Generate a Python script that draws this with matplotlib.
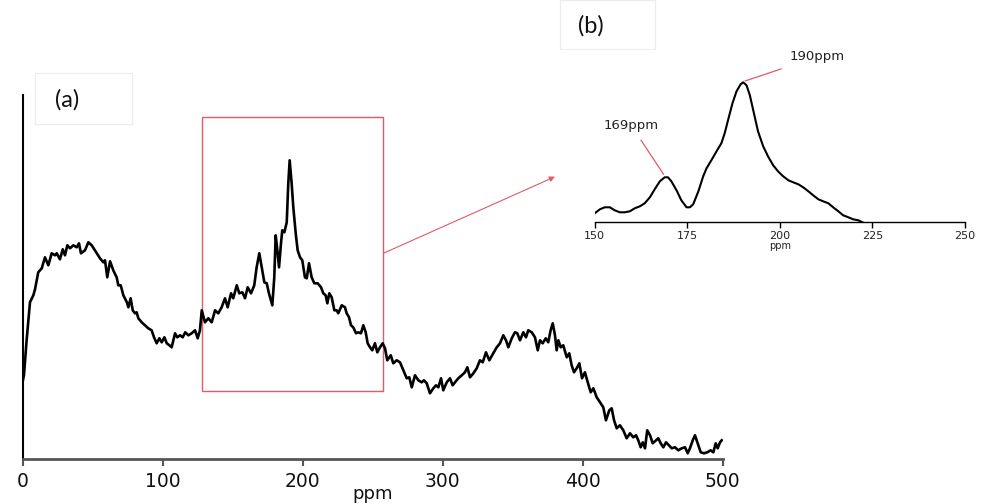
import matplotlib
matplotlib.use("Agg")
import matplotlib.pyplot as plt
from matplotlib.patches import Rectangle

# ---------------- data ----------------
main_ppm = [0.0, 0.9, 2.8, 5.2, 7.6, 8.8, 11.1, 13.6, 15.9, 18.3, 20.7, 23.1, 24.3, 26.6, 28.6, 30.2,
            31.9, 33.8, 36.2, 38.6, 40.2, 41.6, 44.5, 46.9, 49.3, 51.6, 55.2, 57.6, 58.8, 60.4, 62.4,
            64.7, 67.1, 68.3, 70.0, 71.9, 74.4, 75.5, 77.1, 78.6, 80.2, 81.4, 82.6, 85.0, 87.4, 89.7,
            92.1, 93.8, 95.7, 97.6, 99.3, 101.2, 102.9, 104.8, 106.4, 108.8, 110.4, 112.4, 114.3,
            116.1, 118.3, 120.7, 123.1, 125.0, 126.6, 127.9, 130.2, 132.6, 135.0, 137.4, 139.7,
            142.1, 144.5, 146.4, 148.8, 150.4, 152.9, 154.7, 156.9, 158.8, 160.7, 163.1, 165.4,
            167.1, 169.0, 170.7, 172.6, 174.3, 175.9, 178.3, 179.7, 180.7, 181.9, 183.1, 184.5,
            185.4, 186.9, 188.6, 189.7, 190.7, 192.1, 193.3, 195.0, 196.4, 198.1, 199.7, 201.6,
            202.9, 204.5, 206.4, 208.3, 210.7, 213.1, 214.7, 216.4, 217.6, 219.0, 220.7, 222.6,
            224.3, 225.4, 227.9, 230.2, 231.4, 233.1, 234.5, 236.1, 238.1, 239.7, 241.6, 243.3,
            245.0, 246.4, 248.1, 249.7, 251.6, 253.3, 255.2, 257.1, 258.8, 260.4, 262.9, 264.7,
            267.1, 269.5, 271.9, 274.3, 276.1, 277.9, 280.2, 282.6, 285.0, 286.6, 288.6, 290.9,
            293.3, 295.2, 296.9, 298.8, 300.4, 302.9, 305.2, 307.1, 308.8, 311.1, 313.6, 315.9,
            317.6, 319.5, 321.9, 324.3, 326.6, 328.6, 330.9, 333.3, 336.1, 338.6, 340.9, 343.3,
            345.2, 346.9, 349.3, 351.6, 353.3, 355.2, 357.6, 359.5, 361.1, 363.6, 365.9, 367.9,
            369.5, 371.4, 373.6, 375.4, 377.1, 378.6, 380.2, 381.4, 382.6, 384.3, 386.1, 388.6,
            390.4, 392.1, 393.8, 395.7, 397.6, 399.5, 401.6, 403.6, 405.7, 407.6, 410.0, 412.4,
            414.7, 416.6, 419.0, 420.7, 422.4, 424.3, 426.6, 429.0, 431.4, 433.8, 436.1, 438.1,
            439.7, 441.4, 442.9, 444.5, 446.1, 448.1, 450.0, 452.4, 454.0, 455.7, 457.6, 459.5,
            461.6, 463.6, 465.9, 468.3, 470.7, 473.1, 475.0, 476.6, 478.6, 480.2, 482.1, 484.3,
            486.6, 489.0, 491.4, 493.3, 495.0, 496.4, 498.1, 499.3]
main_int = [78, 84, 119, 157, 164, 170, 187, 191, 202, 194, 206, 204, 206, 200, 210, 204,
            214, 211, 214, 212, 216, 206, 209, 217, 214, 209, 201, 197, 199, 182, 198,
            189, 182, 174, 174, 164, 157, 152, 161, 149, 146, 147, 141, 137, 134, 131,
            129, 122, 116, 121, 117, 122, 116, 114, 112, 126, 122, 124, 122,
            127, 124, 126, 129, 121, 129, 149, 137, 141, 137, 149, 146,
            152, 161, 152, 166, 161, 174, 166, 167, 161, 172, 166, 174,
            192, 206, 192, 177, 176, 166, 154, 182, 224, 209, 192, 216,
            229, 227, 237, 276, 299, 276, 252, 226, 209, 202, 199, 182,
            181, 196, 182, 176, 176, 172, 166, 164, 156, 166, 162, 149,
            149, 146, 154, 152, 146, 142, 134, 132, 126, 127, 126, 134,
            127, 116, 112, 109, 116, 107, 112, 116, 111, 99, 104, 96,
            99, 97, 89, 81, 82, 72, 84, 79, 77, 79, 76, 66,
            71, 74, 72, 81, 69, 77, 81, 74, 77, 81, 84, 87,
            92, 82, 86, 91, 99, 97, 107, 99, 106, 112, 116, 124,
            119, 112, 121, 127, 126, 119, 127, 122, 129, 127, 122, 109,
            119, 116, 121, 117, 129, 136, 124, 109, 119, 112, 114, 102,
            106, 94, 87, 91, 96, 81, 87, 77, 67, 71, 62, 57,
            52, 39, 49, 51, 39, 31, 34, 29, 21, 26, 22, 24,
            19, 12, 17, 11, 29, 24, 16, 19, 21, 16, 12, 17,
            14, 11, 12, 9, 11, 12, 6, 11, 19, 24, 16, 7,
            6, 7, 9, 7, 16, 11, 17, 19]

inset_ppm = [150.0, 151.4, 152.7, 154.1, 155.4, 156.8, 158.1, 159.5, 160.8, 162.2, 163.5, 164.9,
             166.2, 167.6, 168.9, 169.8, 170.7, 172.1, 173.4, 174.8, 175.7, 176.6, 178.0, 179.3,
             180.2, 181.5, 182.9, 184.2, 185.1, 186.0, 187.2, 188.3, 189.4, 190.1, 191.0, 191.9,
             193.0, 194.1, 195.5, 196.8, 198.2, 199.5, 200.9, 202.3, 203.6, 205.0, 206.3, 207.7,
             209.0, 210.4, 211.7, 213.1, 214.4, 215.8, 217.1, 218.5, 219.8, 221.2, 222.3]
inset_int = [9, 13, 15, 15, 12, 10, 10, 11, 14, 16, 19, 25,
             33, 41, 45, 45, 41, 32, 22, 15, 15, 18, 31, 46,
             54, 62, 71, 79, 89, 102, 119, 131, 138, 140, 137, 127,
             109, 91, 76, 66, 57, 51, 46, 42, 40, 38, 35, 31,
             27, 23, 21, 19, 15, 11, 7, 5, 3, 2, 0]

main_ticks = [0, 100, 200, 300, 400, 500]
inset_ticks = [150, 175, 200, 225, 250]
peak_labels = ["169ppm", "190ppm"]
peak_ppm = [169.5, 190.4]
zoom_range = [128.3, 257.6]      # ppm range of the red box
zoom_int = [68.6, 342.0]         # intensity range of the red box

RED = "#e05a6a"

# ---------------- figure ----------------
W, H = 984, 504
fig = plt.figure(figsize=(W / 100, H / 100), dpi=100)

def fx(px):
    return px / W

def fy(py):
    return 1 - py / H

# main axes
ax = fig.add_axes([fx(22.7), fy(459.3), fx(722.7) - fx(22.7), fy(95) - fy(459.3)])
ax.plot(main_ppm, main_int, color="black", lw=1.9, solid_joinstyle="round")
ax.set_xlim(0, 500)
ax.set_ylim(0, 364.3)
for s in ["top", "right"]:
    ax.spines[s].set_visible(False)
ax.spines["left"].set_color("black")
ax.spines["left"].set_linewidth(1.5)
ax.spines["bottom"].set_color("#555555")
ax.spines["bottom"].set_linewidth(2.0)
ax.set_yticks([])
ax.set_xticks(main_ticks)
ax.set_xticklabels([str(t) for t in main_ticks], fontsize=13.5, family="DejaVu Sans", color="#111111")
ax.tick_params(axis="x", direction="out", length=5, width=1.5, color="#555555", pad=4)
ax.set_xlabel("ppm", fontsize=13, family="DejaVu Sans", labelpad=-4, color="#111111")
ax.patch.set_alpha(0)

# red zoom box
ax.add_patch(Rectangle((zoom_range[0], zoom_int[0]), zoom_range[1] - zoom_range[0],
                       zoom_int[1] - zoom_int[0], fill=False, edgecolor=RED, lw=1.0,
                       clip_on=False))
# arrow from box to inset
ax.annotate("", xy=(380.2, 282.6), xytext=(zoom_range[1], 206),
            arrowprops=dict(arrowstyle="-|>", color=RED, lw=0.8, mutation_scale=8,
                            shrinkA=0, shrinkB=0),
            annotation_clip=False)

# inset axes
axi = fig.add_axes([fx(594.7), fy(222.3), fx(965) - fx(594.7), fy(72.3) - fy(222.3)])
axi.plot(inset_ppm, inset_int, color="black", lw=1.5, solid_joinstyle="round")
axi.set_xlim(150, 250)
axi.set_ylim(0, 150)
for s in ["top", "right", "left"]:
    axi.spines[s].set_visible(False)
axi.spines["bottom"].set_linewidth(1.0)
axi.set_yticks([])
axi.set_xticks(inset_ticks)
axi.set_xticklabels([str(t) for t in inset_ticks], fontsize=8, family="DejaVu Sans", color="#222222")
axi.tick_params(axis="x", direction="out", length=4, width=1.0, pad=2)
axi.set_xlabel("ppm", fontsize=7, family="DejaVu Sans", labelpad=0, color="#222222")
axi.patch.set_alpha(0)

# peak annotations
axi.annotate(peak_labels[0], xy=(peak_ppm[0] - 0.9, 48), xytext=(159.8, 97.3),
             fontsize=9.5, family="DejaVu Sans", ha="center", va="center", color="#222222",
             arrowprops=dict(arrowstyle="-", color=RED, lw=0.9, shrinkA=5, shrinkB=0),
             annotation_clip=False)
axi.annotate(peak_labels[1], xy=(peak_ppm[1] + 0.2, 141.3), xytext=(210.0, 165.3),
             fontsize=9.5, family="DejaVu Sans", ha="center", va="center", color="#222222",
             arrowprops=dict(arrowstyle="-", color=RED, lw=0.9, shrinkA=6, shrinkB=0),
             annotation_clip=False)

# panel labels with faint boxes
fig.patches.append(Rectangle((fx(35), fy(124)), fx(132) - fx(35), fy(73) - fy(124),
                             transform=fig.transFigure, fill=False, edgecolor="#ececec", lw=0.8))
fig.text(fx(67.5), fy(100), "(a)", fontsize=17, family="Lato", ha="center", va="center", color="#111111")
fig.patches.append(Rectangle((fx(560), fy(49)), fx(655) - fx(560), fy(0) - fy(49),
                             transform=fig.transFigure, fill=False, edgecolor="#ececec", lw=0.8))
fig.text(fx(591), fy(26), "(b)", fontsize=17, family="Lato", ha="center", va="center", color="#111111")

fig.savefig("out.png", dpi=100)
